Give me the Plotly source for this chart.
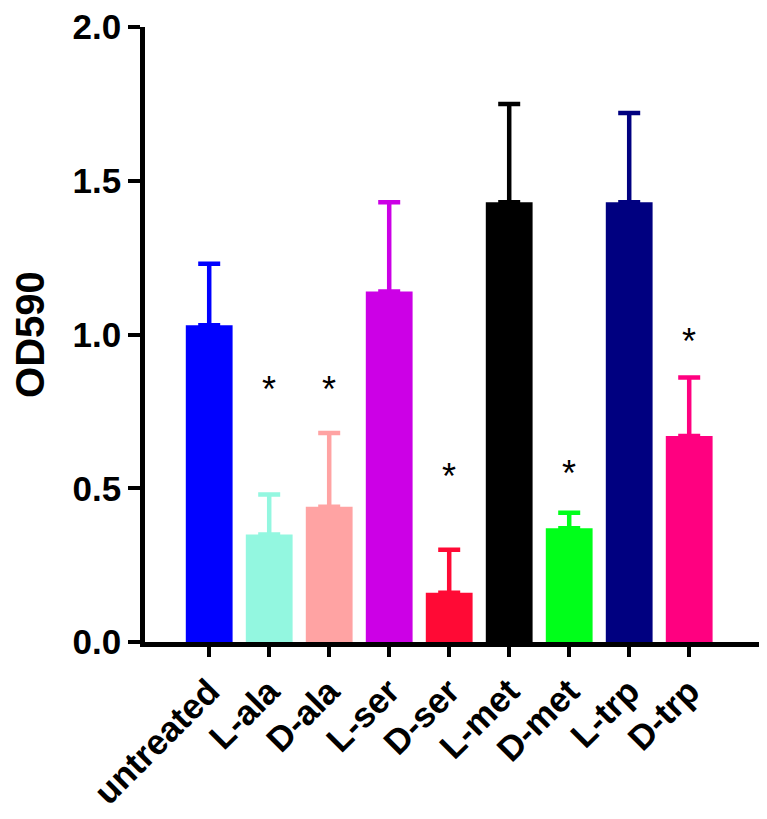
import plotly.graph_objects as go

categories = ["untreated", "L-ala", "D-ala", "L-ser", "D-ser", "L-met", "D-met", "L-trp", "D-trp"]
means = [1.03, 0.35, 0.44, 1.14, 0.16, 1.43, 0.37, 1.43, 0.67]
errors_up = [0.20, 0.13, 0.24, 0.29, 0.14, 0.32, 0.05, 0.29, 0.19]
colors = ["#0000FF", "#93F7E0", "#FFA3A3", "#CC00E6", "#FF0A35", "#000000", "#00FF1A", "#000080", "#FF0080"]
star_cats = ["L-ala", "D-ala", "D-ser", "D-met", "D-trp"]
star_y = [0.845, 0.845, 0.56, 0.57, 1.0]

font = "Arial, Liberation Sans, sans-serif"

fig = go.Figure()
for c, m, e, col in zip(categories, means, errors_up, colors):
    fig.add_trace(go.Bar(
        x=[c], y=[m], marker=dict(color=col, line=dict(width=0)),
        error_y=dict(type="data", symmetric=False, array=[e], arrayminus=[0],
                     color=col, thickness=4.5, width=11),
        showlegend=False,
    ))

for c, y in zip(star_cats, star_y):
    fig.add_annotation(x=c, y=y, text="*", showarrow=False,
                       font=dict(size=36, color="black", family=font),
                       yanchor="middle", yshift=-7)

fig.update_layout(
    width=767, height=819,
    margin=dict(l=137, r=15, t=19, b=185),
    plot_bgcolor="white", paper_bgcolor="white",
    bargap=0.22, barmode="overlay",
    font=dict(family=font, color="black"),
    xaxis=dict(
        type="category", categoryorder="array", categoryarray=categories,
        range=[-1.07, 9.18], automargin=False,
        showline=True, linecolor="black", linewidth=4.5,
        ticks="outside", ticklen=10, tickwidth=3.5, tickcolor="black",
        tickangle=-45,
        tickfont=dict(size=35, family=font, color="black", weight="bold"),
        showgrid=False, zeroline=False,
    ),
    yaxis=dict(
        range=[0, 2.0], tickvals=[0, 0.5, 1.0, 1.5, 2.0],
        ticktext=["0.0", "0.5", "1.0", "1.5", "2.0"],
        ticklabeloverflow="allow", automargin=False,
        showline=True, linecolor="black", linewidth=4.5,
        ticks="outside", ticklen=12, tickwidth=3.5, tickcolor="black",
        tickfont=dict(size=35, family=font, color="black", weight="bold"),
        title=dict(text="OD590", font=dict(size=40, family=font, color="black", weight="bold"), standoff=17),
        showgrid=False, zeroline=False,
    ),
)

fig.write_html("out.html")
